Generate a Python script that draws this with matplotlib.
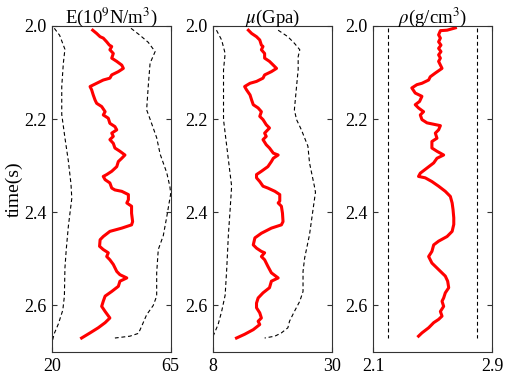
import numpy as np
import matplotlib
matplotlib.use("Agg")
import matplotlib.pyplot as plt

plt.rcParams['font.family'] = ['Liberation Serif', 'DejaVu Serif']
plt.rcParams['mathtext.fontset'] = 'stix'
plt.rcParams['font.size'] = 13

# E (10^9 N/m^3): inverted curve and bounds
E_t = [2.009, 2.016, 2.023, 2.026, 2.034, 2.041, 2.044, 2.051, 2.059, 2.069,
       2.076, 2.084, 2.091, 2.098, 2.105, 2.112, 2.116, 2.123, 2.130, 2.137,
       2.148, 2.159, 2.166, 2.173, 2.184, 2.191, 2.198, 2.209, 2.216, 2.223,
       2.230, 2.237, 2.244, 2.252, 2.262, 2.269, 2.277, 2.284, 2.291, 2.302,
       2.312, 2.319, 2.323, 2.330, 2.337, 2.348, 2.352, 2.355, 2.362, 2.373,
       2.380, 2.387, 2.402, 2.420, 2.427, 2.434, 2.441, 2.452, 2.459, 2.473,
       2.480, 2.487, 2.495, 2.502, 2.512, 2.527, 2.534, 2.541, 2.548, 2.559,
       2.570, 2.580, 2.591, 2.602, 2.613, 2.627, 2.637, 2.648, 2.659, 2.670]
E_val = [35.5, 37.0, 38.3, 39.5, 40.8, 41.8, 42.7, 42.0, 43.3, 42.7,
         44.6, 46.5, 47.1, 45.2, 42.7, 42.0, 39.5, 37.0, 34.5, 35.1,
         35.7, 36.4, 37.0, 38.9, 40.2, 39.5, 41.4, 42.0, 43.9, 44.6,
         42.7, 43.3, 42.0, 43.3, 43.9, 45.8, 47.7, 46.5, 45.2, 44.6,
         42.7, 40.8, 39.5, 40.2, 42.0, 42.7, 43.9, 46.5, 49.0, 49.0,
         48.4, 50.2, 50.2, 50.6, 50.2, 46.5, 42.0, 39.5, 38.3, 38.1,
         39.5, 41.4, 40.8, 42.0, 43.3, 44.6, 45.8, 48.4, 45.8, 45.2,
         42.7, 40.2, 39.5, 38.9, 40.2, 42.0, 40.2, 37.6, 34.5, 31.3]
E_lo_t = [2.005, 2.02, 2.05, 2.08, 2.13, 2.19, 2.24, 2.29, 2.34, 2.37,
          2.43, 2.48, 2.52, 2.58, 2.61, 2.64, 2.66, 2.675]
E_lo = [21.0, 23.0, 25.0, 24.4, 23.8, 23.8, 25.0, 26.3, 27.3, 27.6,
        26.3, 25.5, 25.0, 24.8, 24.2, 22.5, 21.0, 20.3]
E_hi_t = [2.005, 2.02, 2.035, 2.055, 2.08, 2.13, 2.18, 2.20, 2.24, 2.275,
          2.315, 2.345, 2.36, 2.41, 2.45, 2.48, 2.53, 2.58, 2.60, 2.62,
          2.645, 2.66, 2.666, 2.670]
E_hi = [50.0, 53.4, 56.5, 59.1, 57.2, 56.5, 55.9, 57.2, 59.7, 61.0,
        63.5, 64.7, 65.0, 63.5, 62.2, 60.3, 59.7, 59.7, 58.4, 55.9,
        54.0, 52.8, 49.6, 43.9]

# mu (Gpa)
mu_t = [2.009, 2.016, 2.023, 2.030, 2.041, 2.044, 2.051, 2.059, 2.069, 2.076,
        2.084, 2.091, 2.098, 2.105, 2.112, 2.119, 2.123, 2.130, 2.137, 2.148,
        2.159, 2.169, 2.176, 2.184, 2.194, 2.201, 2.212, 2.219, 2.230, 2.237,
        2.244, 2.255, 2.262, 2.273, 2.277, 2.284, 2.291, 2.302, 2.312, 2.319,
        2.326, 2.334, 2.344, 2.348, 2.355, 2.362, 2.376, 2.380, 2.387, 2.402,
        2.420, 2.427, 2.434, 2.445, 2.455, 2.470, 2.477, 2.484, 2.487, 2.495,
        2.502, 2.516, 2.530, 2.541, 2.548, 2.562, 2.573, 2.584, 2.595, 2.605,
        2.616, 2.627, 2.634, 2.641, 2.652, 2.662, 2.670]
mu_val = [14.6, 15.2, 16.1, 16.7, 17.0, 17.3, 17.0, 17.6, 17.6, 18.5,
          19.2, 19.8, 18.85, 17.6, 17.3, 16.1, 14.9, 13.9, 14.25, 14.9,
          15.2, 15.5, 16.4, 17.0, 16.7, 17.3, 17.9, 18.5, 17.6, 17.9,
          17.3, 17.9, 18.5, 19.2, 20.1, 19.2, 18.85, 18.2, 17.0, 16.1,
          16.1, 16.7, 17.3, 18.2, 19.5, 20.4, 20.4, 20.1, 20.7, 20.9,
          21.0, 20.7, 18.85, 17.0, 15.8, 15.5, 16.1, 17.0, 17.6, 17.0,
          17.6, 18.2, 18.85, 20.1, 18.85, 18.5, 17.3, 16.4, 16.1, 16.1,
          16.7, 17.0, 16.4, 16.7, 15.5, 13.9, 12.4]
mu_lo_t = [2.009, 2.030, 2.059, 2.094, 2.166, 2.201, 2.230, 2.287, 2.344, 2.398,
           2.448, 2.520, 2.578, 2.613, 2.641, 2.668]
mu_lo = [8.7, 9.65, 10.3, 10.0, 10.0, 10.0, 10.3, 10.9, 11.5, 11.2,
         10.9, 10.6, 10.3, 9.65, 9.0, 8.0]
mu_hi_t = [2.009, 2.023, 2.037, 2.051, 2.066, 2.094, 2.130, 2.180, 2.201, 2.223,
           2.258, 2.294, 2.344, 2.357, 2.398, 2.448, 2.498, 2.527, 2.570, 2.591,
           2.613, 2.634, 2.648, 2.659, 2.666, 2.670]
mu_hi = [20.1, 21.9, 23.1, 24.1, 23.8, 23.8, 23.5, 23.1, 23.5, 24.4,
         25.6, 25.9, 26.8, 27.0, 26.5, 25.9, 25.0, 24.7, 24.7, 24.1,
         23.1, 22.2, 21.9, 20.7, 19.5, 17.6]

# rho (g/cm^3)
rho_t = [2.004, 2.009, 2.010, 2.019, 2.026, 2.034, 2.041, 2.048, 2.055, 2.062,
         2.069, 2.076, 2.091, 2.101, 2.109, 2.116, 2.123, 2.126, 2.133, 2.144,
         2.151, 2.162, 2.169, 2.176, 2.184, 2.191, 2.201, 2.208, 2.214, 2.223,
         2.230, 2.241, 2.248, 2.262, 2.269, 2.277, 2.284, 2.294, 2.305, 2.316,
         2.323, 2.326, 2.334, 2.344, 2.355, 2.366, 2.380, 2.394, 2.412, 2.426,
         2.441, 2.452, 2.462, 2.470, 2.484, 2.495, 2.509, 2.523, 2.537, 2.548,
         2.562, 2.573, 2.584, 2.591, 2.602, 2.613, 2.623, 2.630, 2.637, 2.648,
         2.659, 2.666]
rho_val = [2.652, 2.596, 2.551, 2.539, 2.551, 2.539, 2.555, 2.539, 2.555, 2.539,
           2.551, 2.539, 2.562, 2.517, 2.483, 2.472, 2.427, 2.393, 2.359, 2.382,
           2.427, 2.411, 2.382, 2.404, 2.438, 2.416, 2.427, 2.461, 2.551, 2.539,
           2.517, 2.528, 2.494, 2.494, 2.528, 2.573, 2.528, 2.506, 2.461, 2.416,
           2.404, 2.449, 2.494, 2.539, 2.584, 2.618, 2.630, 2.636, 2.641, 2.641,
           2.630, 2.596, 2.539, 2.506, 2.494, 2.472, 2.494, 2.539, 2.584, 2.600,
           2.607, 2.584, 2.573, 2.562, 2.573, 2.551, 2.562, 2.539, 2.506, 2.472,
           2.427, 2.404]
rho_band_t = [2.005, 2.670]
rho_lo = [2.2, 2.2]
rho_hi = [2.8, 2.8]

titles = [r'E(10$^9$N/m$^3$)', r'$\mu$(Gpa)', r'$\rho$(g/cm$^3$)']
xlims = [(20, 65), (8, 30), (2.1, 2.9)]
xticklabels = [['20', '65'], ['8', '30'], ['2.1', '2.9']]
yticks = [2.0, 2.2, 2.4, 2.6]

panels = [
    (E_t, E_val, E_lo_t, E_lo, E_hi_t, E_hi),
    (mu_t, mu_val, mu_lo_t, mu_lo, mu_hi_t, mu_hi),
    (rho_t, rho_val, rho_band_t, rho_lo, rho_band_t, rho_hi),
]

fig = plt.figure(figsize=(5.05, 3.76), dpi=100)
lefts = [51.7, 212.7, 373.3]
for i in range(3):
    ax = fig.add_axes([lefts[i] / 505, 24 / 376, 119 / 505, 326 / 376])
    t, v, lt, lo, ht, hi = panels[i]
    ax.plot(lo, lt, color='k', lw=0.8, ls=(0, (3.5, 2.5)))
    ax.plot(hi, ht, color='k', lw=0.8, ls=(0, (3.5, 2.5)))
    ax.plot(v, t, color='#ff0000', lw=2.2)
    ax.set_xlim(xlims[i])
    ax.set_ylim(2.7, 2.0)
    ax.set_xticks(list(xlims[i]))
    ax.set_xticklabels(xticklabels[i])
    ax.set_yticks(yticks)
    ax.set_yticklabels(['%.1f' % y for y in yticks])
    ax.tick_params(direction='in', top=True, right=True, length=3.5,
                   width=0.8, color='#333333', pad=4)
    for s in ax.spines.values():
        s.set_color('#333333')
        s.set_linewidth(0.8)
    ax.set_title(titles[i], fontsize=13.5, pad=2)
    if i == 0:
        ax.set_ylabel('time(s)', fontsize=14, labelpad=1)

fig.savefig('out.png', dpi=100)
